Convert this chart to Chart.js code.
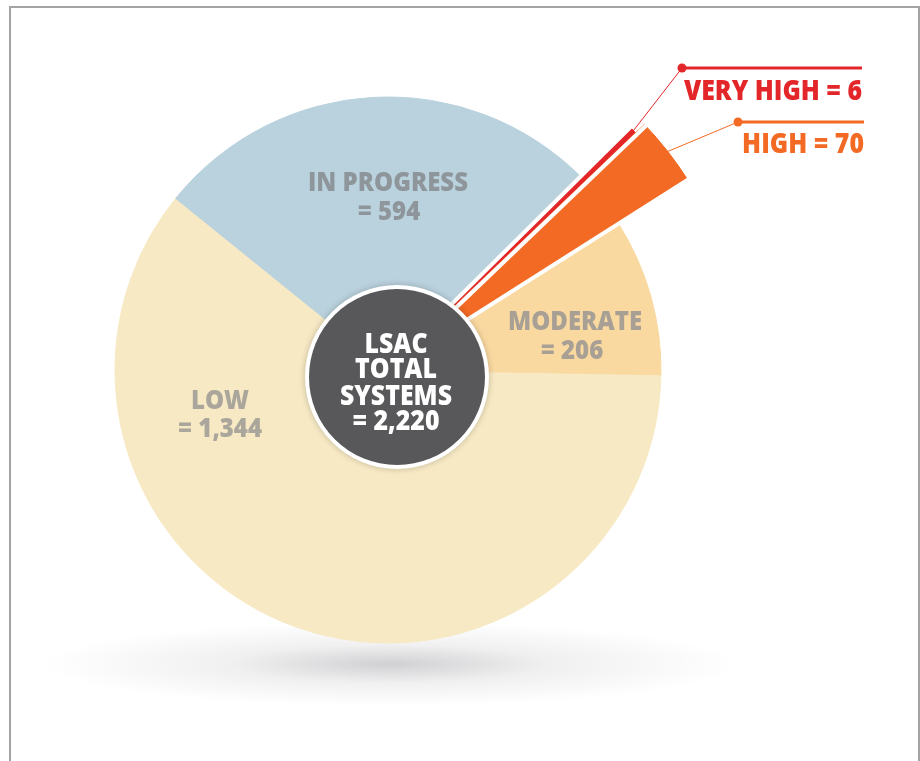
<!DOCTYPE html>
<html>
<head>
<meta charset="utf-8">
<script src="https://cdn.jsdelivr.net/npm/chart.js@4.4.1/dist/chart.umd.min.js"></script>
<style>
  html, body { margin: 0; padding: 0; background: #ffffff; }
  #wrap { position: relative; width: 920px; height: 761px; overflow: hidden; background: #fff; }
  #frame { position: absolute; left: 9px; top: 6px; width: 911px; height: 800px; border: 2px solid #a3a3a3; box-sizing: border-box; }
  canvas { position: absolute; left: 0; top: 0; }
</style>
</head>
<body>
<div id="wrap">
  <div id="frame"></div>
  <canvas id="chart" width="920" height="761"></canvas>
</div>
<script>
// ---- data ----
const categories = ['LOW', 'IN PROGRESS', 'VERY HIGH', 'HIGH', 'MODERATE'];
const values = [1344, 594, 6, 70, 206];
const totalLabel = ['LSAC', 'TOTAL', 'SYSTEMS'];
const totalValue = 2220;

// ---- styles ----
const sliceColors = ['#f7e9c4', '#bad2de', '#e3262a', '#f26a24', '#fad9a1'];
const labelColors = ['#aaa69b', '#8f969b', '#e3262a', '#f26a24', '#a8a095'];
const R_PIE = 273, R_VH = 343, R_HIGH = 355;
const FONT = "'Open Sans', 'Liberation Sans', Arial, sans-serif";

const fmt = v => v.toLocaleString('en-US');
const onlyFor = idxs => sliceColors.map((c, i) => idxs.includes(i) ? c : 'rgba(0,0,0,0)');

let condense = 1;
function text(ctx, str, x, y, size, color, align) {
  ctx.save();
  ctx.font = `800 ${size}px ${FONT}`;
  ctx.fillStyle = color;
  ctx.textBaseline = 'alphabetic';
  ctx.textAlign = align || 'center';
  ctx.translate(x, y);
  ctx.scale(condense, 1);
  ctx.fillText(str, 0, 0);
  ctx.restore();
}

const decor = {
  id: 'decor',
  beforeDatasetsDraw(chart) {
    const ctx = chart.ctx;
    const a = chart.getDatasetMeta(2).data[0];
    const cx = a.x, cy = a.y;
    // soft floor shadow
    ctx.save();
    ctx.translate(cx + 2, cy + 294);
    ctx.scale(1, 0.12);
    const g = ctx.createRadialGradient(0, 0, 0, 0, 0, 348);
    g.addColorStop(0, 'rgba(60,60,70,0.24)');
    g.addColorStop(0.45, 'rgba(60,60,70,0.08)');
    g.addColorStop(1, 'rgba(60,60,70,0)');
    ctx.fillStyle = g;
    ctx.beginPath();
    ctx.arc(0, 0, 348, 0, Math.PI * 2);
    ctx.fill();
    ctx.restore();
  },
  afterDatasetsDraw(chart) {
    const ctx = chart.ctx;
    const arcs = chart.getDatasetMeta(2).data;
    const cx = arcs[0].x, cy = arcs[0].y;
    ctx.save();
    ctx.font = `800 27px ${FONT}`;
    condense = 160 / ctx.measureText('IN PROGRESS').width;
    ctx.restore();

    // white gaps around the exploded slices
    function gap(angle, shift) {
      const dx = Math.cos(angle), dy = Math.sin(angle);
      const nx = -dy, ny = dx;
      ctx.beginPath();
      ctx.moveTo(cx + nx * shift, cy + ny * shift);
      ctx.lineTo(cx + dx * (R_HIGH + 10) + nx * shift, cy + dy * (R_HIGH + 10) + ny * shift);
      ctx.stroke();
    }
    ctx.save();
    ctx.strokeStyle = '#ffffff';
    ctx.lineWidth = 4;
    gap(arcs[1].endAngle, -2);
    gap(arcs[2].endAngle, 2);
    gap(arcs[3].endAngle, 0);
    ctx.restore();

    // center disc
    const ox = cx + 9, oy = cy + 7;
    ctx.save();
    ctx.shadowColor = 'rgba(0,0,0,0.22)';
    ctx.shadowBlur = 6;
    ctx.fillStyle = '#ffffff';
    ctx.beginPath(); ctx.arc(ox, oy, 92, 0, Math.PI * 2); ctx.fill();
    ctx.restore();
    ctx.fillStyle = '#58585a';
    ctx.beginPath(); ctx.arc(ox, oy, 88, 0, Math.PI * 2); ctx.fill();

    text(ctx, totalLabel[0], ox - 1, cy - 17, 28, '#ffffff');
    text(ctx, totalLabel[1], ox - 1, cy + 8, 28, '#ffffff');
    text(ctx, totalLabel[2], ox - 1, cy + 35, 28, '#ffffff');
    text(ctx, '= ' + fmt(totalValue), ox - 1, cy + 60, 28, '#ffffff');

    // in-slice labels
    text(ctx, categories[1], cx, cy - 179, 27, labelColors[1]);
    text(ctx, '= ' + fmt(values[1]), cx + 1, cy - 150, 27, labelColors[1]);
    text(ctx, categories[0], cx - 168, cy + 39, 27, labelColors[0]);
    text(ctx, '= ' + fmt(values[0]), cx - 168, cy + 67, 27, labelColors[0]);
    text(ctx, categories[4], cx + 187, cy - 40, 27, labelColors[4]);
    text(ctx, '= ' + fmt(values[4]), cx + 184, cy - 11, 27, labelColors[4]);

    // callouts for the exploded slices
    const vh = chart.getDatasetMeta(1).data[2];
    const hi = chart.getDatasetMeta(0).data[3];
    function callout(arc, r, dotX, dotY, endX, color, str, baseY) {
      const m = (arc.startAngle + arc.endAngle) / 2;
      const tx = cx + Math.cos(m) * r, ty = cy + Math.sin(m) * r;
      ctx.save();
      ctx.strokeStyle = color;
      ctx.fillStyle = color;
      ctx.lineWidth = 1;
      ctx.beginPath(); ctx.moveTo(tx, ty); ctx.lineTo(dotX, dotY); ctx.stroke();
      ctx.lineWidth = 3;
      ctx.beginPath(); ctx.moveTo(dotX, dotY); ctx.lineTo(endX, dotY); ctx.stroke();
      ctx.beginPath(); ctx.arc(dotX, dotY, 4.5, 0, Math.PI * 2); ctx.fill();
      ctx.restore();
      text(ctx, str, endX, baseY, 28, color, 'right');
    }
    callout(vh, R_VH - 2, cx + 294, cy - 302, cx + 474, labelColors[2],
            categories[2] + ' = ' + fmt(values[2]), cy - 270);
    callout(hi, R_HIGH - 2, cx + 350, cy - 248, cx + 476, labelColors[3],
            categories[3] + ' = ' + fmt(values[3]), cy - 217);
  }
};

new Chart(document.getElementById('chart'), {
  type: 'pie',
  data: {
    labels: categories,
    datasets: [
      { data: values, backgroundColor: onlyFor([3]), borderColor: onlyFor([3]), borderWidth: 1, weight: R_HIGH - R_VH },
      { data: values, backgroundColor: onlyFor([2, 3]), borderColor: onlyFor([2, 3]), borderWidth: 1, weight: R_VH - R_PIE },
      { data: values, backgroundColor: sliceColors, borderColor: sliceColors, borderWidth: 1, weight: R_PIE }
    ]
  },
  options: {
    responsive: false,
    animation: false,
    events: [],
    radius: R_HIGH,
    rotation: 91,
    layout: { padding: { left: 0, right: 144, top: 0, bottom: 21 } },
    plugins: { legend: { display: false }, tooltip: { enabled: false } }
  },
  plugins: [decor]
});
</script>
</body>
</html>
